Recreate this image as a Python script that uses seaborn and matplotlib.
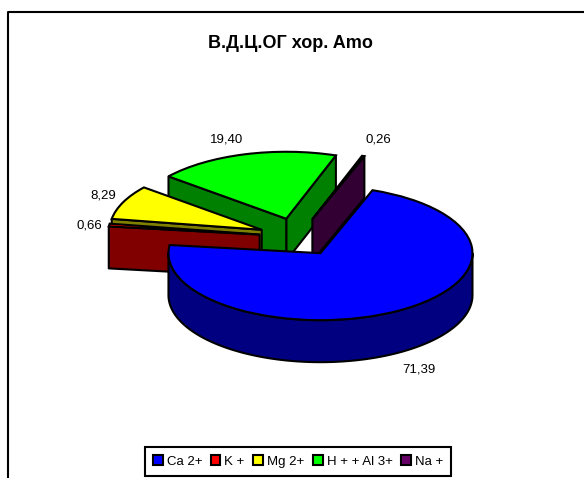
import numpy as np
import matplotlib
matplotlib.use("Agg")
import matplotlib.pyplot as plt
import seaborn as sns

# values of the slices, clockwise from the top right
names = ["Ca 2+", "K +", "Mg 2+", "H + + Al 3+", "Na +"]
values = [71.39, 0.66, 8.29, 19.40, 0.26]
top_colors = ["#0000FF", "#FF0000", "#FFFF00", "#00FF00", "#660066"]
wall_colors = ["#000080", "#800000", "#808000", "#008000", "#330033"]
pull_out = [0.283, 0.255, 0.262, 0.283, 0.283]
# back slices are painted first
paint_order = [3, 4, 2, 1, 0]
# where the number labels sit, pixels from the top left
label_px = [(419, 369), (89, 225), (103, 195), (227, 140), (378, 140)]

W, H = 584, 478
CX, CY = 298, 237      # pie centre in pixels
RX, RY = 152, 67       # ellipse radii in pixels
DEPTH = 42 / RY        # wall height in data units
LW = 1.5

sns.set_theme(style="white")
plt.rcParams["font.family"] = ["Liberation Sans", "DejaVu Sans"]

fig, ax = plt.subplots(figsize=(W / 100, H / 100), dpi=100)
ax.set_position([0, 0, 1, 1])

wedges, _ = ax.pie(values, colors=top_colors, startangle=70, counterclock=False,
                   explode=pull_out, radius=1,
                   wedgeprops={"edgecolor": "black", "linewidth": LW})

# squash the pie into an ellipse
ax.set_aspect("auto")
ax.set_xlim(-CX / RX, (W - CX) / RX)
ax.set_ylim((CY - H) / RY, CY / RY)
ax.axis("off")


def draw_wall(xs, ys, color, z):
    xs = np.asarray(xs)
    ys = np.asarray(ys)
    px = np.concatenate([xs, xs[::-1]])
    py = np.concatenate([ys, ys[::-1] - DEPTH])
    ax.fill(px, py, facecolor=color, edgecolor="black", linewidth=LW,
            joinstyle="round", zorder=z)


# side walls, only the ones that face the viewer
for rank, i in enumerate(paint_order):
    w = wedges[i]
    cx, cy = w.center
    z = 2 + rank * 2
    t1, t2 = w.theta1, w.theta2
    # radial faces
    if np.sin(np.radians(t1 - 90)) < 0:
        a = np.radians(t1)
        draw_wall([cx, cx + np.cos(a)], [cy, cy + np.sin(a)], wall_colors[i], z)
    if np.sin(np.radians(t2 + 90)) < 0:
        a = np.radians(t2)
        draw_wall([cx, cx + np.cos(a)], [cy, cy + np.sin(a)], wall_colors[i], z)
    # outer rim
    angles = np.radians(np.linspace(t1, t2, 400))
    angles = angles[np.sin(angles) <= 0]
    if len(angles) > 1:
        draw_wall(cx + np.cos(angles), cy + np.sin(angles), wall_colors[i], z)
    w.set_zorder(z + 1)

for v, (x, y) in zip(values, label_px):
    fig.text(x / W, 1 - y / H, f"{v:.2f}".replace(".", ","), fontsize=9.5,
             color="black", ha="center", va="center")

fig.text(290 / W, 1 - 43 / H, "В.Д.Ц.ОГ хор. Amo", fontsize=13, fontweight="bold",
         color="black", ha="center", va="center")

# chart border runs off the right and bottom of the picture
fig.add_artist(plt.Line2D([8 / W, 8 / W, 1], [0, 1 - 12 / H, 1 - 12 / H],
                          color="black", linewidth=1.5))

leg = fig.legend(wedges, names, ncol=5, loc="center",
                 bbox_to_anchor=(298 / W, 1 - 461.5 / H), fontsize=9.5,
                 frameon=True, fancybox=False, framealpha=1, edgecolor="black",
                 handlelength=0.75, handleheight=0.75, handletextpad=0.3,
                 columnspacing=0.65, borderpad=0.6, labelspacing=0)
leg.get_frame().set_linewidth(1.5)
for t in leg.get_texts():
    t.set_color("black")

fig.savefig("out.png", dpi=100, facecolor="white")
